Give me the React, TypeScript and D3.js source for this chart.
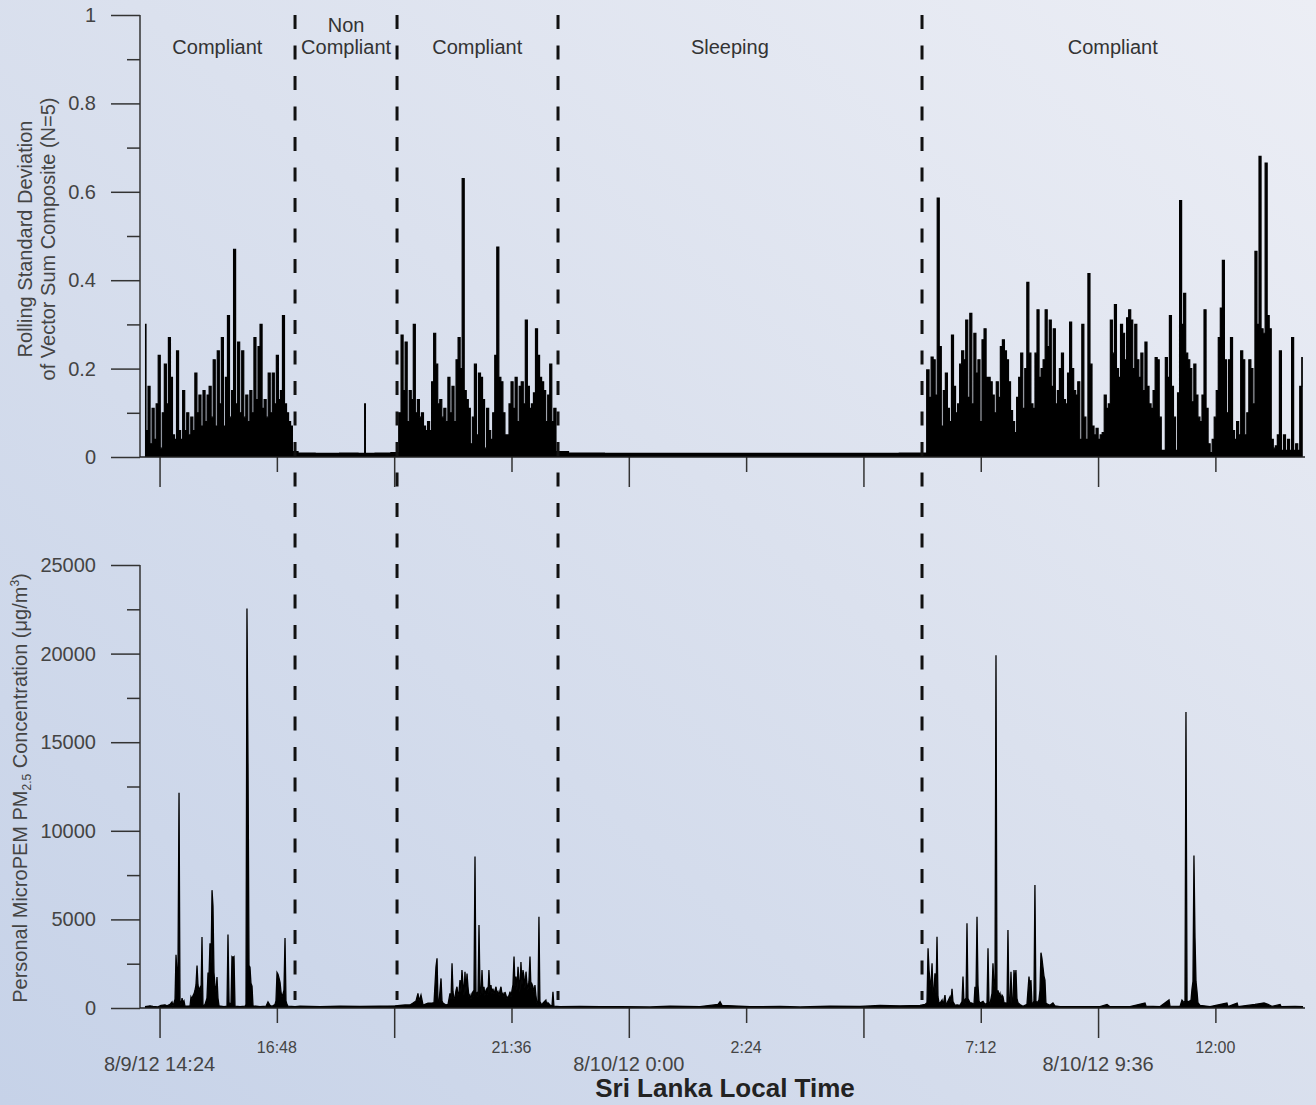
import React, { useRef, useEffect } from 'react';
import * as d3 from 'd3';

const WIDTH = 1316;
const HEIGHT = 1105;

// all times are minutes after 8/9/12 14:00 (Sri Lanka local)
const START = new Date(2012, 7, 9, 14, 0);
const SPAN = 1430;

const phaseBreaks = [190.3, 315.5, 513.1, 959.9];
const phaseNames = [['Compliant'], ['Non', 'Compliant'], ['Compliant'], ['Sleeping'], ['Compliant']];
const phaseLabelAt = [95, 253, 414, 724, 1194];

const majorTicks = [24, 312, 600, 888, 1176];
const majorLabels = ['8/9/12 14:24', '', '8/10/12 0:00', '', '8/10/12 9:36'];
const minorTicks = [168, 456, 744, 1032, 1320];
const minorLabels = ['16:48', '21:36', '2:24', '7:12', '12:00'];

const sdMajor = [0, 0.2, 0.4, 0.6, 0.8, 1];
const sdMinor = [0.1, 0.3, 0.5, 0.7, 0.9];
const pmMajor = [0, 5000, 10000, 15000, 20000, 25000];
const pmMinor = [2500, 7500, 12500, 17500, 22500];

// rolling SD, sampled every 2.5 min while worn
const SD_STEP = 2.5;
const sdStartA = 6.1;
const sdA = [
  0.30, 0.06, 0.16, 0.03, 0.11, 0.04, 0.12, 0.23, 0.02, 0.10,
  0.21, 0.12, 0.27, 0.18, 0.05, 0.04, 0.24, 0.06, 0.04, 0.15,
  0.06, 0.10, 0.05, 0.09, 0.06, 0.19, 0.10, 0.14, 0.07, 0.15,
  0.08, 0.14, 0.16, 0.09, 0.22, 0.07, 0.24, 0.12, 0.27, 0.07,
  0.18, 0.32, 0.09, 0.15, 0.47, 0.12, 0.26, 0.10, 0.24, 0.09,
  0.14, 0.08, 0.15, 0.10, 0.27, 0.13, 0.25, 0.30, 0.11, 0.13,
  0.09, 0.19, 0.10, 0.19, 0.12, 0.23, 0.13, 0.15, 0.32, 0.12,
  0.10, 0.08, 0.07,
];
const sdStartB = 319.2;
const sdB = [
  0.10, 0.276, 0.15, 0.26, 0.08, 0.15, 0.13, 0.30, 0.10, 0.13,
  0.09, 0.10, 0.07, 0.06, 0.08, 0.06, 0.17, 0.28, 0.21, 0.12,
  0.13, 0.09, 0.11, 0.08, 0.18, 0.10, 0.16, 0.08, 0.22, 0.27,
  0.20, 0.63, 0.15, 0.13, 0.11, 0.03, 0.09, 0.21, 0.05, 0.19,
  0.18, 0.13, 0.02, 0.11, 0.06, 0.04, 0.10, 0.23, 0.475, 0.18,
  0.17, 0.10, 0.05, 0.05, 0.12, 0.17, 0.11, 0.18, 0.08, 0.16,
  0.17, 0.12, 0.31, 0.16, 0.11, 0.12, 0.145, 0.29, 0.23, 0.18,
  0.17, 0.15, 0.08, 0.14, 0.21, 0.08, 0.11,
];
const sdStartC = 967.3;
const sdC = [
  0.197, 0.135, 0.226, 0.22, 0.14, 0.586, 0.25, 0.07, 0.15, 0.19,
  0.11, 0.08, 0.276, 0.16, 0.10, 0.12, 0.21, 0.24, 0.22, 0.31, 0.135,
  0.325, 0.12, 0.28, 0.19, 0.22, 0.08, 0.265, 0.29, 0.18, 0.18, 0.17,
  0.14, 0.10, 0.17, 0.135, 0.25, 0.265, 0.24, 0.22, 0.17, 0.105, 0.08, 0.055,
  0.135, 0.18, 0.235, 0.11, 0.2, 0.395, 0.235, 0.12, 0.11, 0.235,
  0.333, 0.18, 0.2, 0.22, 0.333, 0.25, 0.31, 0.16, 0.29, 0.12, 0.15, 0.2,
  0.235, 0.13, 0.12, 0.19, 0.305, 0.2, 0.15, 0.14, 0.17, 0.04, 0.30, 0.09,
  0.04, 0.415, 0.21, 0.07, 0.05, 0.065, 0.04, 0.05, 0.055, 0.14, 0.11,
  0.12, 0.31, 0.235, 0.345, 0.2, 0.18, 0.30, 0.28, 0.22, 0.315, 0.333,
  0.31, 0.2, 0.30, 0.22, 0.18, 0.235, 0.15, 0.26, 0.16, 0.12, 0.11, 0.15,
  0.225, 0.22, 0.09, 0.015, 0.015, 0.225, 0.18, 0.32, 0.16, 0.09,
  0.015, 0.145, 0.58, 0.30, 0.37, 0.235, 0.22, 0.2, 0.125, 0.21,
  0.14, 0.09, 0.08, 0.14, 0.333, 0.11, 0.03, 0.01, 0.04, 0.09,
  0.15, 0.27, 0.337, 0.445, 0.22, 0.10, 0.22, 0.27, 0.06, 0.04,
  0.08, 0.05, 0.24, 0.22, 0.05, 0.10, 0.22, 0.20, 0.12,
  0.465, 0.30, 0.68, 0.29, 0.28, 0.665, 0.32, 0.29, 0.04, 0.02,
  0.025, 0.05, 0.24, 0.015, 0.05, 0.015, 0.04, 0.015, 0.27, 0.015,
  0.03, 0.015, 0.16, 0.225,
];
// non compliant and sleeping stretches: [minute, sd]
const sdQuiet = [
  [188, 0.012], [200, 0.009], [230, 0.008], [260, 0.009], [275.3, 0.008], [276.2, 0.12],
  [277.1, 0.008], [300, 0.009], [316, 0.01], [512, 0.012], [540, 0.009], [600, 0.008],
  [700, 0.008], [800, 0.008], [900, 0.008], [964, 0.009],
];

// MicroPEM PM2.5: [minute, ug/m3]
const pm = [
  [6.1, 80], [12.3, 120], [16.0, 90], [22.1, 60], [25.8, 150], [30.7, 180], [33.1, 120],
  [36.8, 200], [39.3, 340], [40.5, 100], [43.0, 500], [44.2, 3000], [45.4, 2000], [46.6, 1900],
  [47.9, 12150], [49.1, 450], [50.3, 150], [51.6, 560], [52.8, 300], [54.0, 400], [55.2, 100],
  [61.4, 120], [62.6, 620], [63.8, 500], [65.1, 700], [66.3, 800], [67.5, 1000], [68.7, 1300],
  [70.0, 2400], [71.2, 1300], [72.4, 1000], [73.7, 1150], [74.9, 800], [76.1, 4000], [77.3, 100],
  [79.8, 200], [82.2, 560], [83.5, 2000], [84.7, 1800], [85.9, 3650], [87.2, 2500], [88.4, 6650],
  [89.6, 5750], [90.8, 2000], [92.1, 1200], [93.3, 900], [94.5, 1750], [95.7, 560], [97.0, 120],
  [103.1, 80], [106.8, 100], [108.0, 4150], [109.3, 300], [110.5, 250], [111.7, 200], [112.9, 2900],
  [114.1, 2850], [115.4, 2900], [116.6, 100], [122.8, 80], [128.9, 100], [130.1, 200],
  [131.3, 22550], [132.6, 13800], [133.8, 2400], [135.0, 2300], [136.2, 1400], [137.5, 1240],
  [138.7, 120], [147.3, 80], [154.7, 100], [157.1, 340], [159.6, 150], [162.0, 90], [165.7, 200],
  [166.9, 400], [168.2, 2000], [169.4, 1900], [170.6, 1700], [171.9, 1450], [173.1, 900],
  [174.3, 620], [175.5, 800], [176.7, 1000], [178.0, 3950], [179.2, 400], [180.4, 200],
  [181.7, 100], [190.3, 80], [196.4, 100], [221, 80], [245.5, 100], [270, 90], [294.6, 100],
  [313, 120], [325.3, 170], [331.4, 170], [335.1, 280], [338.8, 400], [341.2, 830], [342.5, 400],
  [344.9, 730], [347.4, 170], [353.5, 280], [358.4, 280], [360.9, 300], [363.3, 2330],
  [364.6, 2800], [365.8, 300], [367.0, 300], [369.5, 1670], [370.7, 400], [371.9, 280],
  [375.6, 170], [378.1, 200], [380.5, 830], [381.8, 500], [383.0, 2520], [384.2, 920],
  [385.4, 500], [386.7, 640], [387.9, 1000], [389.1, 1200], [390.3, 700], [391.6, 920],
  [392.8, 1580], [394.0, 900], [395.2, 2140], [396.5, 1350], [397.7, 700], [398.9, 2050],
  [400.1, 900], [401.4, 1940], [402.6, 1200], [403.8, 600], [405.0, 730], [406.3, 500],
  [407.5, 830], [408.7, 920], [409.9, 600], [411.2, 8550], [412.4, 700], [413.6, 830],
  [414.9, 600], [416.1, 4680], [417.3, 1200], [418.5, 700], [419.8, 2140], [421.0, 800],
  [422.2, 1200], [423.4, 700], [424.7, 1000], [425.9, 1100], [427.1, 700], [428.3, 2140],
  [429.6, 900], [430.8, 1290], [432.0, 800], [433.2, 1100], [434.5, 800], [435.8, 1000],
  [437.0, 1200], [438.2, 800], [439.4, 920], [440.7, 700], [441.9, 1000], [443.1, 1200],
  [444.3, 800], [445.6, 830], [446.8, 600], [448.0, 900], [449.2, 730], [450.5, 500],
  [451.7, 640], [452.9, 700], [454.2, 920], [455.4, 600], [456.6, 1000], [457.8, 1300],
  [459.1, 2900], [460.3, 1200], [461.5, 1770], [462.7, 1000], [464.0, 2330], [465.2, 1580],
  [466.4, 900], [467.6, 2600], [468.9, 1300], [470.1, 2140], [471.3, 1770], [472.5, 1100],
  [473.8, 2050], [475.0, 1400], [476.2, 1000], [477.4, 1500], [478.7, 2900], [479.9, 1100],
  [481.1, 1350], [482.3, 1200], [483.6, 900], [484.8, 1290], [486.0, 700], [487.2, 280],
  [488.5, 200], [489.7, 5150], [490.9, 360], [493.4, 150], [494.6, 280], [498.2, 450],
  [499.5, 150], [500.7, 300], [503.3, 170], [505.7, 100], [506.9, 920], [508.1, 100],
  [515.5, 80], [540.1, 90], [564.7, 70], [589.2, 80], [626.0, 60], [650.6, 100], [687.4, 80],
  [709.5, 200], [712.0, 350], [714.4, 150], [748.8, 70], [785.6, 90], [810.2, 60], [847.0, 100],
  [883.8, 90], [908.4, 140], [932.9, 120], [957.5, 150], [963.6, 200],
  [966.0, 300], [967.3, 3370], [968.5, 2140], [969.7, 1500], [970.9, 1200], [972.2, 2520],
  [973.4, 830], [974.6, 1000], [975.8, 1960], [977.1, 800], [978.3, 4020], [979.5, 640],
  [980.7, 300], [982.0, 280], [984.5, 450], [985.7, 150], [988.1, 730], [989.3, 200],
  [990.6, 280], [994.3, 640], [995.5, 300], [996.7, 1080], [997.9, 370], [1000.4, 150],
  [1002.9, 180], [1006.5, 150], [1009.0, 370], [1010.2, 1770], [1011.4, 300], [1012.7, 450],
  [1013.9, 200], [1015.1, 4780], [1016.3, 540], [1018.8, 300], [1021.3, 280], [1023.7, 200],
  [1024.9, 1200], [1026.2, 1000], [1027.4, 5150], [1028.6, 1300], [1029.8, 400], [1031.1, 280],
  [1034.8, 370], [1037.2, 200], [1039.7, 280], [1040.9, 3370], [1042.1, 300], [1043.4, 250],
  [1045.8, 830], [1047.0, 2520], [1048.3, 1200], [1049.5, 1640], [1050.7, 19900], [1051.9, 800],
  [1053.2, 1000], [1054.4, 700], [1055.6, 830], [1056.8, 500], [1058.1, 730], [1059.3, 640],
  [1060.5, 300], [1063.0, 280], [1064.2, 150], [1065.4, 4400], [1066.6, 280], [1067.9, 300],
  [1069.1, 2050], [1070.3, 280], [1071.5, 300], [1072.8, 2140], [1074.0, 1500], [1075.2, 2140],
  [1076.4, 540], [1077.7, 300], [1080.1, 200], [1083.8, 100], [1088.7, 200], [1091.2, 1770],
  [1092.4, 1200], [1093.6, 1580], [1094.8, 300], [1096.1, 250], [1097.3, 400], [1098.5, 6940],
  [1099.7, 400], [1101.0, 280], [1103.4, 450], [1104.7, 1000], [1105.9, 3120], [1107.1, 2800],
  [1108.3, 2330], [1109.6, 1800], [1110.8, 1580], [1112.0, 280], [1114.5, 200], [1116.9, 150],
  [1120.6, 280], [1123.0, 120], [1129.2, 80], [1153.8, 70], [1178.4, 80], [1187.0, 200],
  [1190.7, 70], [1215.2, 80], [1233.6, 280], [1234.9, 100], [1252.1, 80], [1263.1, 450],
  [1264.3, 100], [1276.6, 90], [1279.0, 450], [1281.5, 300], [1282.7, 400], [1283.9, 16700],
  [1285.2, 400], [1286.4, 350], [1288.8, 400], [1290.1, 450], [1291.3, 1080], [1292.5, 1500],
  [1293.7, 8600], [1295.0, 3950], [1296.2, 1500], [1297.4, 960], [1298.6, 300], [1301.1, 150],
  [1313.4, 80], [1334.2, 280], [1335.4, 80], [1346.7, 280], [1347.9, 80], [1368.6, 200],
  [1374.8, 250], [1379.7, 280], [1384.6, 200], [1389.5, 90], [1399.4, 200], [1400.6, 80],
  [1417.8, 90], [1427.6, 80],
];

const FONT = '"Liberation Sans", Arial, sans-serif';

const App = () => {
  const svgRef = useRef(null);

  useEffect(() => {
    const toDate = (m) => new Date(START.getTime() + m * 60000);
    const x = d3.scaleTime().domain([START, toDate(SPAN)]).range([140, 1305]);
    const yTop = d3.scaleLinear().domain([0, 1]).range([457, 15]);
    const yBot = d3.scaleLinear().domain([0, 25000]).range([1008, 565]);

    const svg = d3.select(svgRef.current);
    svg.selectAll('*').remove();

    const defs = svg.append('defs');
    const grad = defs.append('linearGradient').attr('id', 'bg')
      .attr('x1', 0).attr('y1', 1).attr('x2', 1).attr('y2', 0);
    grad.append('stop').attr('offset', '0%').attr('stop-color', '#c6d2e8');
    grad.append('stop').attr('offset', '55%').attr('stop-color', '#dbe1ee');
    grad.append('stop').attr('offset', '100%').attr('stop-color', '#eceef5');
    svg.append('rect').attr('width', WIDTH).attr('height', HEIGHT).attr('fill', 'url(#bg)');

    // series
    const seg = (start, vals) => vals.map((v, i) => [start + i * SD_STEP, v]);
    const sdPoints = [...seg(sdStartA, sdA), ...seg(sdStartB, sdB), ...seg(sdStartC, sdC), ...sdQuiet]
      .sort((a, b) => a[0] - b[0]);

    const drawSeries = (pts, y, curve, width) => {
      const area = d3.area().curve(curve).x((d) => x(toDate(d[0]))).y0(y(0)).y1((d) => y(d[1]));
      const line = d3.line().curve(curve).x((d) => x(toDate(d[0]))).y((d) => y(d[1]));
      svg.append('path').attr('d', area(pts)).attr('fill', '#000');
      svg.append('path').attr('d', line(pts)).attr('fill', 'none')
        .attr('stroke', '#000').attr('stroke-width', width);
    };
    drawSeries(sdPoints, yTop, d3.curveStep, 1.2);
    drawSeries(pm, yBot, d3.curveLinear, 1.3);

    const styleAxis = (g, size) => {
      g.select('.domain').remove();
      g.selectAll('line').attr('stroke', '#333').attr('stroke-width', 1.5);
      g.selectAll('text').attr('fill', '#444').attr('font-size', size).attr('font-family', FONT);
    };

    // y axes
    const yAxis = (scale, major, minor) => {
      const gMin = svg.append('g').attr('transform', 'translate(140,0)')
        .call(d3.axisLeft(scale).tickValues(minor).tickSize(13).tickFormat(() => ''));
      styleAxis(gMin, 20);
      const gMaj = svg.append('g').attr('transform', 'translate(140,0)')
        .call(d3.axisLeft(scale).tickValues(major).tickSize(29).tickPadding(15).tickFormat((d) => String(d)));
      styleAxis(gMaj, 20);
      svg.append('line').attr('x1', 140).attr('x2', 140)
        .attr('y1', scale(scale.domain()[1])).attr('y2', scale(0))
        .attr('stroke', '#333').attr('stroke-width', 1.5);
    };
    yAxis(yTop, sdMajor, sdMinor);
    yAxis(yBot, pmMajor, pmMinor);

    // x axes (top panel unlabeled, bottom panel labeled)
    [457, 1008].forEach((y0) => {
      const gMaj = svg.append('g').attr('transform', `translate(0,${y0})`)
        .call(d3.axisBottom(x).tickValues(majorTicks.map(toDate)).tickSize(30).tickFormat(() => ''));
      styleAxis(gMaj, 16);
      const gMin = svg.append('g').attr('transform', `translate(0,${y0})`)
        .call(d3.axisBottom(x).tickValues(minorTicks.map(toDate)).tickSize(15).tickFormat(() => ''));
      styleAxis(gMin, 16);
      svg.append('line').attr('x1', 140).attr('x2', 1305).attr('y1', y0).attr('y2', y0)
        .attr('stroke', '#222').attr('stroke-width', 1.5);
    });

    svg.append('g').selectAll('text').data(majorTicks).enter().append('text')
      .attr('x', (d) => x(toDate(d))).attr('y', 1071)
      .attr('text-anchor', 'middle').attr('font-size', 20).attr('font-family', FONT).attr('fill', '#444')
      .text((d, i) => majorLabels[i]);
    svg.append('g').selectAll('text').data(minorTicks).enter().append('text')
      .attr('x', (d) => x(toDate(d))).attr('y', 1053)
      .attr('text-anchor', 'middle').attr('font-size', 16).attr('font-family', FONT).attr('fill', '#444')
      .text((d, i) => minorLabels[i]);

    svg.append('text').attr('x', 725).attr('y', 1097).attr('text-anchor', 'middle')
      .attr('font-size', 26).attr('font-weight', 'bold').attr('font-family', FONT).attr('fill', '#222')
      .text('Sri Lanka Local Time');

    // phase boundaries
    svg.append('g').selectAll('line').data(phaseBreaks).enter().append('line')
      .attr('x1', (d) => x(toDate(d))).attr('x2', (d) => x(toDate(d)))
      .attr('y1', 15).attr('y2', 1000)
      .attr('stroke', '#111').attr('stroke-width', 3).attr('stroke-dasharray', '14,16.5');

    phaseNames.forEach((lines, i) => {
      const t = svg.append('text').attr('text-anchor', 'middle')
        .attr('font-size', 20).attr('font-family', FONT).attr('fill', '#333');
      lines.forEach((s, j) => {
        t.append('tspan').attr('x', x(toDate(phaseLabelAt[i])))
          .attr('y', 54 - (lines.length - 1 - j) * 22).text(s);
      });
    });

    // axis titles
    const title = svg.append('text').attr('text-anchor', 'middle')
      .attr('font-size', 20).attr('font-family', FONT).attr('fill', '#444');
    title.append('tspan').attr('x', 0).attr('y', 0).text('Rolling Standard Deviation');
    title.append('tspan').attr('x', 0).attr('y', 23).text('of Vector Sum Composite (N=5)');
    title.attr('transform', 'translate(32,239) rotate(-90)');

    const pmTitle = svg.append('text').attr('text-anchor', 'middle')
      .attr('font-size', 20).attr('font-family', FONT).attr('fill', '#444')
      .attr('transform', 'translate(27,788) rotate(-90)');
    pmTitle.append('tspan').text('Personal MicroPEM PM');
    pmTitle.append('tspan').attr('font-size', 12).attr('dy', 4).text('2.5');
    pmTitle.append('tspan').attr('dy', -4).text(' Concentration (μg/m');
    pmTitle.append('tspan').attr('font-size', 12).attr('dy', -8).text('3');
    pmTitle.append('tspan').attr('dy', 8).text(')');
  }, []);

  return (
    <svg ref={svgRef} width={WIDTH} height={HEIGHT}
      style={{ position: 'absolute', left: 0, top: 0, display: 'block' }} />
  );
};

export default App;
